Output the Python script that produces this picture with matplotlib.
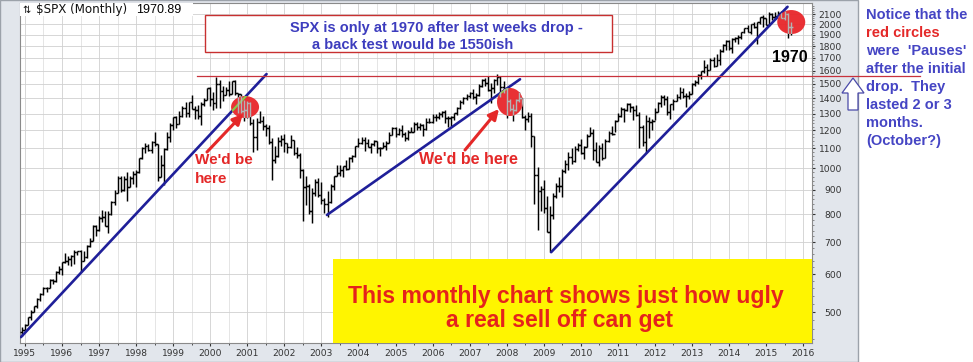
import numpy as np
import matplotlib
matplotlib.use('Agg')
import matplotlib.pyplot as plt
from matplotlib.collections import LineCollection
from matplotlib.patches import Ellipse, Rectangle, Polygon
import matplotlib.transforms as mtransforms
from matplotlib.ticker import FixedLocator, NullFormatter, FuncFormatter

W, H = 973, 362

# ---------------- data: $SPX monthly, Dec 1994 .. Sep 2015 ----------------
first_bar_time = 1994 + 11 / 12.0
first_open = 453.7

closes = [
    459.3,
    470.4, 487.4, 500.7, 514.7, 533.4, 544.8, 562.1, 561.9, 584.4, 581.5, 605.4, 615.9,   # 1995
    636.0, 640.4, 645.5, 654.2, 669.1, 670.6, 639.9, 652.0, 687.3, 705.3, 757.0, 740.7,   # 1996
    786.2, 790.8, 757.1, 801.3, 848.3, 885.1, 954.3, 899.5, 947.3, 914.6, 955.4, 970.4,   # 1997
    980.3, 1049.3, 1101.8, 1111.8, 1090.8, 1133.8, 1120.7, 957.3, 1017.0, 1098.7, 1163.6, 1229.2,  # 1998
    1279.6, 1238.3, 1286.4, 1335.2, 1301.8, 1372.7, 1328.7, 1320.4, 1282.7, 1362.9, 1389.0, 1469.3,  # 1999
    1394.5, 1366.4, 1498.6, 1452.4, 1420.6, 1454.6, 1430.8, 1517.7, 1436.5, 1429.4, 1315.0, 1320.3,  # 2000
    1366.0, 1239.9, 1160.3, 1249.5, 1255.8, 1224.4, 1211.2, 1133.6, 1040.9, 1059.8, 1139.5, 1148.1,  # 2001
    1130.2, 1106.7, 1147.4, 1076.9, 1067.1, 989.8, 911.6, 916.1, 815.3, 885.8, 936.3, 879.8,  # 2002
    855.7, 841.2, 848.2, 916.9, 963.6, 974.5, 990.3, 1008.0, 996.0, 1050.7, 1058.2, 1111.9,  # 2003
    1131.1, 1144.9, 1126.2, 1107.3, 1120.7, 1140.8, 1101.7, 1104.2, 1114.6, 1130.2, 1173.8, 1211.9,  # 2004
    1181.3, 1203.6, 1180.6, 1156.9, 1191.5, 1191.3, 1234.2, 1220.3, 1228.8, 1207.0, 1249.5, 1248.3,  # 2005
    1280.1, 1280.7, 1294.8, 1310.6, 1270.1, 1270.2, 1276.7, 1303.8, 1335.9, 1377.9, 1400.6, 1418.3,  # 2006
    1438.2, 1406.8, 1420.9, 1482.4, 1530.6, 1503.4, 1455.3, 1474.0, 1526.8, 1549.4, 1481.1, 1468.4,  # 2007
    1378.6, 1330.6, 1322.7, 1385.6, 1400.4, 1280.0, 1267.4, 1282.8, 1166.4, 968.8, 896.2, 903.3,  # 2008
    825.9, 735.1, 797.9, 872.8, 919.1, 919.3, 987.5, 1020.6, 1057.1, 1036.2, 1095.6, 1115.1,  # 2009
    1073.9, 1104.5, 1169.4, 1186.7, 1089.4, 1030.7, 1101.6, 1049.3, 1141.2, 1183.3, 1180.6, 1257.6,  # 2010
    1286.1, 1327.2, 1325.8, 1363.6, 1345.2, 1320.6, 1292.3, 1218.9, 1131.4, 1253.3, 1247.0, 1257.6,  # 2011
    1312.4, 1365.7, 1408.5, 1397.9, 1310.3, 1362.2, 1379.3, 1406.6, 1440.7, 1412.2, 1416.2, 1426.2,  # 2012
    1498.1, 1514.7, 1569.2, 1597.6, 1630.7, 1606.3, 1685.7, 1633.0, 1681.6, 1756.5, 1805.8, 1848.4,  # 2013
    1782.6, 1859.5, 1872.3, 1884.0, 1923.6, 1960.2, 1930.7, 2003.4, 1972.3, 2018.1, 2067.6, 2058.9,  # 2014
    1995.0, 2104.5, 2067.9, 2085.5, 2107.4, 2063.1, 2103.8, 1972.2, 1970.9,                          # 2015
]
highs = [
    466.0,
    473, 489, 504, 515, 534, 547, 564, 565, 586, 587, 608, 623,
    637, 665, 656, 657, 673, 672, 673, 670, 690, 714, 762, 760,
    794, 818, 815, 812, 853, 898, 961, 961, 961, 983, 964, 987,
    992, 1051, 1106, 1130, 1123, 1139, 1190, 1121, 1066, 1103, 1192, 1245,
    1280, 1284, 1317, 1348, 1375, 1375, 1421, 1350, 1358, 1376, 1405, 1474,
    1478, 1445, 1553, 1528, 1482, 1477, 1518, 1519, 1530, 1437, 1432, 1389,
    1384, 1376, 1268, 1270, 1316, 1287, 1239, 1232, 1155, 1111, 1163, 1173,
    1177, 1131, 1173, 1147, 1107, 1075, 994, 965, 925, 908, 951, 954,
    935, 864, 895, 925, 965, 1015, 1016, 1011, 1040, 1054, 1063, 1112,
    1155, 1159, 1163, 1150, 1128, 1146, 1141, 1109, 1132, 1142, 1188, 1217,
    1218, 1213, 1230, 1192, 1199, 1220, 1246, 1246, 1244, 1234, 1270, 1276,
    1295, 1297, 1310, 1318, 1326, 1284, 1283, 1306, 1340, 1390, 1407, 1431,
    1441, 1462, 1438, 1499, 1535, 1541, 1556, 1504, 1539, 1576, 1555, 1523,
    1471, 1396, 1359, 1397, 1440, 1404, 1292, 1313, 1303, 1167, 1007, 919,
    943, 875, 832, 888, 930, 957, 997, 1039, 1080, 1101, 1111, 1130,
    1150, 1112, 1180, 1220, 1206, 1132, 1120, 1130, 1148, 1196, 1227, 1263,
    1303, 1345, 1333, 1368, 1371, 1346, 1357, 1308, 1230, 1293, 1278, 1269,
    1334, 1378, 1420, 1422, 1416, 1363, 1392, 1427, 1475, 1470, 1434, 1448,
    1509, 1531, 1570, 1598, 1687, 1654, 1698, 1709, 1730, 1775, 1814, 1849,
    1850, 1867, 1884, 1897, 1925, 1968, 1991, 2005, 2019, 2019, 2075, 2094,
    2065, 2120, 2115, 2126, 2135, 2130, 2133, 2113, 2021,
]
lows = [
    445.0,
    459, 469, 481, 500, 509, 528, 542, 550, 560, 572, 579, 601,
    597, 633, 627, 625, 631, 658, 605, 638, 649, 684, 703, 722,
    737, 773, 756, 733, 798, 839, 885, 893, 897, 855, 911, 926,
    912, 979, 1047, 1076, 1085, 1074, 1112, 940, 957, 923, 1093, 1136,
    1203, 1212, 1234, 1281, 1277, 1281, 1327, 1268, 1267, 1233, 1348, 1387,
    1350, 1326, 1339, 1339, 1382, 1420, 1416, 1431, 1420, 1305, 1307, 1254,
    1275, 1229, 1081, 1091, 1245, 1203, 1165, 1124, 944, 1026, 1054, 1114,
    1081, 1074, 1103, 1063, 1048, 952, 775, 837, 800, 768, 873, 870,
    840, 806, 789, 847, 902, 963, 962, 960, 990, 994, 1031, 1056,
    1108, 1123, 1088, 1107, 1076, 1113, 1078, 1060, 1100, 1090, 1128, 1173,
    1164, 1174, 1163, 1137, 1146, 1188, 1191, 1201, 1201, 1168, 1201, 1243,
    1245, 1253, 1268, 1280, 1245, 1219, 1225, 1262, 1290, 1327, 1360, 1385,
    1403, 1398, 1364, 1416, 1476, 1484, 1452, 1371, 1439, 1490, 1406, 1435,
    1270, 1316, 1257, 1317, 1373, 1272, 1200, 1248, 1107, 840, 741, 815,
    805, 735, 667, 783, 866, 892, 869, 979, 992, 1020, 1029, 1086,
    1072, 1045, 1105, 1170, 1040, 1029, 1011, 1040, 1049, 1132, 1173, 1188,
    1257, 1277, 1249, 1314, 1311, 1259, 1283, 1102, 1114, 1075, 1158, 1202,
    1259, 1312, 1340, 1358, 1292, 1267, 1325, 1379, 1397, 1403, 1343, 1398,
    1426, 1485, 1501, 1536, 1581, 1560, 1605, 1627, 1633, 1646, 1747, 1768,
    1770, 1738, 1834, 1815, 1863, 1915, 1930, 1905, 1964, 1821, 2001, 1972,
    1988, 1981, 2040, 2048, 2067, 2057, 2044, 1867, 1903,
]

price_ticks = [500, 600, 700, 800, 900, 1000, 1100, 1200, 1300, 1400, 1500,
               1600, 1700, 1800, 1900, 2000, 2100]
year_labels = list(range(1995, 2017))

# annotation geometry (time, price)
trend_lines = [((1994.89, 443), (2001.52, 1573)),
               ((2003.15, 798), (2008.36, 1534)),
               ((2009.20, 667), (2015.58, 2175))]
backtest_level = 1560
backtest_span = (1999.64, 2019.16)
pause_circles = [(2000.94, 1342, 0.28, 0.22),
                 (2008.09, 1375, 0.26, 0.28),
                 (2015.68, 2021, 0.28, 0.24)]

# ---------------- figure ----------------
fig = plt.figure(figsize=(W / 100, H / 100), dpi=100)
fig.patch.set_facecolor('white')

def fx(px):
    return px / W

def fy(py):
    return 1 - py / H

frame = Rectangle((0, 0), fx(858), 1, transform=fig.transFigure,
                  facecolor='#E2E6EC', edgecolor='#9CA2AA', lw=1.0, zorder=-5)
fig.patches.append(frame)

ax = fig.add_axes([fx(20), fy(343), fx(812) - fx(20), fy(3) - fy(343)])
ax.set_facecolor('white')
ax.set_yscale('log')

XMIN, XMAX = 1994.866, 2016.24
YMIN, YMAX = 430.7, 2215

# grid / ticks
ax.xaxis.set_major_locator(FixedLocator(year_labels))
ax.xaxis.set_major_formatter(FuncFormatter(lambda v, p: '%d' % round(v)))
ax.xaxis.set_minor_locator(FixedLocator([y + 0.5 for y in range(1995, 2016)]))
ax.xaxis.set_minor_formatter(NullFormatter())
ax.yaxis.set_major_locator(FixedLocator(price_ticks))
ax.yaxis.set_major_formatter(FuncFormatter(lambda v, p: '%d' % round(v)))
ax.yaxis.set_minor_locator(FixedLocator([v for v in range(440, 2220, 20) if v % 100]))
ax.yaxis.set_minor_formatter(NullFormatter())
ax.grid(True, which='major', color='#D0D0D0', lw=0.6)
ax.grid(True, which='minor', axis='x', color='#E0E0E0', lw=0.6)
ax.set_axisbelow(True)
ax.yaxis.tick_right()
ax.tick_params(axis='y', which='major', length=2, pad=19.6, labelsize=6.6,
               colors='#333333', direction='out')
ax.tick_params(axis='y', which='minor', length=1.5, color='#777777')
ax.tick_params(axis='x', which='both', length=2, pad=2, labelsize=6.6,
               colors='#333333')
ax.tick_params(axis='x', which='minor', length=1.5)
for sp in ax.spines.values():
    sp.set_color('#8A8A8A')
    sp.set_linewidth(0.8)

# OHLC bars
n = len(closes)
times = first_bar_time + np.arange(n) / 12.0
opens = [first_open] + closes[:-1]
d = 0.05
segs = []
for t, o, h, l, c in zip(times, opens, highs, lows, closes):
    segs.append([(t, l), (t, h)])
    segs.append([(t - d, o), (t, o)])
    segs.append([(t, c), (t + d, c)])
bars = LineCollection(segs, colors='black', linewidths=1.05, zorder=3)
ax.add_collection(bars)

# trend lines
navy = '#1F1F99'
for (t0, v0), (t1, v1) in trend_lines:
    ax.plot([t0, t1], [v0, v1], color=navy, lw=1.9, zorder=4, solid_capstyle='round')

# back test level
ax.plot(list(backtest_span), [backtest_level, backtest_level], color='#C8323C',
        lw=0.9, zorder=4, clip_on=False)

ax.set_xlim(XMIN, XMAX)
ax.set_ylim(YMIN, YMAX)

# pause circles
for k, (tc, vc, w_in, h_in) in enumerate(pause_circles):
    tr = fig.dpi_scale_trans + mtransforms.ScaledTranslation(tc, vc, ax.transData)
    e = Ellipse((0, 0), w_in, h_in, transform=tr, facecolor='#E8262A',
                edgecolor='none', alpha=0.95, zorder=5)
    ax.add_patch(e)
    if k < 2:
        (t0, v0), (t1, v1) = trend_lines[k]
        gl, = ax.plot([t0, t1], [v0, v1], color='#8CC84B', lw=1.6, zorder=6)
        gl.set_clip_path(e)
    gbars = LineCollection(segs, colors='#B4B4B4', linewidths=1.05, zorder=6)
    ax.add_collection(gbars)
    gbars.set_clip_path(e)

ax.set_xlim(XMIN, XMAX)
ax.set_ylim(YMIN, YMAX)
for lab in ax.get_yticklabels():
    lab.set_horizontalalignment('right')

# ---------------- texts & annotations ----------------
fig.patches.append(Rectangle((fx(20), fy(16)), fx(193) - fx(20), fy(3) - fy(16),
                             transform=fig.transFigure, facecolor='white',
                             edgecolor='none', zorder=7))
fig.text(fx(22), fy(10), '\u21c5', fontsize=7, family='DejaVu Sans',
         va='center', ha='left', color='#111111', zorder=8)
fig.text(fx(36), fy(10), '$SPX (Monthly)', fontsize=8.6, family='DejaVu Sans',
         va='center', ha='left', color='#111111', zorder=8)
fig.text(fx(136), fy(10), '1970.89', fontsize=9, family='Liberation Sans',
         va='center', ha='left', color='black', zorder=8)

box = Rectangle((fx(205), fy(52)), fx(612) - fx(205), fy(15) - fy(52),
                transform=fig.transFigure, facecolor='white', edgecolor='#C83030',
                lw=1.0, zorder=7)
fig.patches.append(box)
blue_txt = '#3D3DBE'
fig.text(fx(436), fy(28), 'SPX is only at 1970 after last weeks drop -', fontsize=10.5,
         fontweight='bold', family='Liberation Sans', color=blue_txt,
         ha='center', va='center', zorder=8)
fig.text(fx(413), fy(45), 'a back test would be 1550ish', fontsize=10.5,
         fontweight='bold', family='Liberation Sans', color=blue_txt,
         ha='center', va='center', zorder=8)

ybox = Rectangle((fx(333), fy(343)), fx(812) - fx(333), fy(259) - fy(343),
                 transform=fig.transFigure, facecolor='#FFF500', edgecolor='none', zorder=7)
fig.patches.append(ybox)
red_txt = '#E5231C'
fig.text(fx(566), fy(296), 'This monthly chart shows just how ugly', fontsize=16.6,
         fontweight='bold', family='Liberation Sans', color=red_txt,
         ha='center', va='center', zorder=8)
fig.text(fx(560), fy(320), 'a real sell off can get', fontsize=16.6,
         fontweight='bold', family='Liberation Sans', color=red_txt,
         ha='center', va='center', zorder=8)

red2 = '#E42828'
fig.text(fx(195), fy(160), "We'd be", fontsize=11, fontweight='bold',
         family='Liberation Sans', color=red2, ha='left', va='center', zorder=8)
fig.text(fx(195), fy(179), "here", fontsize=11, fontweight='bold',
         family='Liberation Sans', color=red2, ha='left', va='center', zorder=8)
fig.text(fx(419), fy(160), "We'd be here", fontsize=11.5, fontweight='bold',
         family='Liberation Sans', color=red2, ha='left', va='center', zorder=8)
fig.text(fx(772), fy(57), '1970', fontsize=11.5, fontweight='bold',
         family='Liberation Sans', color='black', ha='left', va='center', zorder=8)

for (x0, y0), (x1, y1) in [((207, 152), (243, 114)), ((465, 150), (499, 109))]:
    ax.annotate('', xy=(fx(x1), fy(y1)), xytext=(fx(x0), fy(y0)),
                xycoords='figure fraction', textcoords='figure fraction',
                annotation_clip=False,
                arrowprops=dict(arrowstyle='-|>,head_length=0.6,head_width=0.3',
                                color=red2, lw=2.2, shrinkA=0, shrinkB=0))

arrow_pts = [(853, 78), (864, 93), (858, 93), (858, 110), (848, 110), (848, 93), (842, 93)]
fig.patches.append(Polygon([(fx(x), fy(y)) for x, y in arrow_pts], closed=True,
                           transform=fig.transFigure, facecolor='white',
                           edgecolor='#4A4AA8', lw=0.9, zorder=7))

note_lines = ['Notice that the', 'red circles', "were  'Pauses'", 'after the initial',
              'drop.  They', 'lasted 2 or 3', 'months.', '(October?)']
for i, s in enumerate(note_lines):
    col = red2 if i == 1 else '#4545C4'
    fig.text(fx(866), fy(15 + 18 * i), s, fontsize=10.5, fontweight='bold',
             family='Liberation Sans', color=col, ha='left', va='center', zorder=8)

fig.savefig('out.png', dpi=100, facecolor=fig.get_facecolor())
